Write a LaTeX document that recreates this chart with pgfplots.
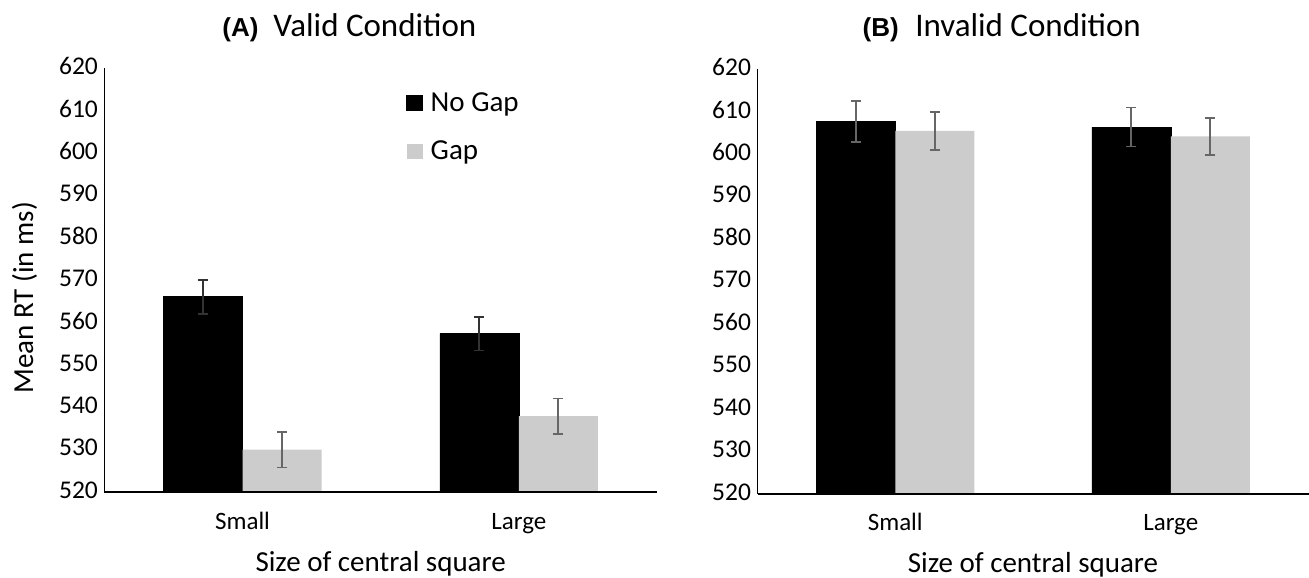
\documentclass[border=0pt]{standalone}
\usepackage{fontspec}
\setmainfont{Carlito}
\newfontfamily\arialfont{Liberation Sans}
\usepackage{pgfplots}
\pgfplotsset{compat=1.18}
\definecolor{gapgray}{HTML}{CCCCCC}
\definecolor{errgray}{HTML}{666666}
\definecolor{errdark}{HTML}{333333}
\pgfplotsset{
  panel/.style={
    scale only axis,
    height=423.9pt,
    xmin=-0.5, xmax=1.5, ymin=520, ymax=620,
    ytick={520,530,...,620},
    xtick={0,1}, xticklabels={Small,Large},
    axis x line*=bottom, axis y line*=left,
    axis line style={line width=1.5pt, black},
    major tick length=0pt,
    ybar=0pt, bar width=79pt,
    axis on top,
    tick label style={font=\fontsize{25}{30}\selectfont},
    yticklabel style={font=\fontsize{25.5}{30}\selectfont, xshift=-3pt, yshift=2pt},
    /pgf/number format/assume math mode=true,
    xticklabel style={anchor=base, yshift=-37pt},
    xlabel={Size of central square},
    xlabel style={font=\fontsize{29}{34}\selectfont, at={(axis description cs:0.5,0)}, anchor=base, yshift=-79pt},
  },
  errs/.style={error bars/.cd, y dir=both, y explicit,
    error bar style={line width=1.8pt, #1},
    error mark options={rotate=90, mark size=5pt, line width=1.8pt, #1}},
}
\begin{document}
\begin{tikzpicture}
\useasboundingbox (0,0) rectangle (1309pt,578pt);
\begin{axis}[panel, width=552.6pt, at={(104.4pt,85.9pt)}, anchor=south west,
  ylabel={Mean RT (in ms)},
  ylabel style={font=\fontsize{29}{34}\selectfont, at={(axis description cs:-0.1292,0.458)}, anchor=base, rotate=0},
  legend style={at={(0.546,0.95)}, anchor=north west, draw=none, fill=none, inner sep=0pt,
    font=\fontsize{29}{34}\selectfont, row sep=22pt, nodes={inner sep=3pt},
    /tikz/every odd column/.append style={column sep=5pt}},
  legend cell align=left,
  legend image code/.code={\fill[#1] (0pt,-7.5pt) rectangle (16pt,7.5pt);},
]
\addplot[fill=black, draw=black, errs=errdark] coordinates {(0,566.1) +- (0,4.0) (1,557.4) +- (0,4.0)};
\addlegendentry{No Gap}
\addplot[fill=gapgray, draw=none, errs=errgray] coordinates {(0,530.0) +- (0,4.2) (1,537.9) +- (0,4.2)};
\addlegendentry{Gap}
\end{axis}
\begin{axis}[panel, width=551pt, at={(757.5pt,84.1pt)}, anchor=south west, height=424.6pt]
\addplot[fill=black, draw=black, errs=errgray] coordinates {(0,607.7) +- (0,4.8) (1,606.4) +- (0,4.6)};
\addplot[fill=gapgray, draw=none, errs=errgray] coordinates {(0,605.5) +- (0,4.5) (1,604.2) +- (0,4.4)};
\end{axis}
\node[anchor=base] at (349.4pt,541pt) {{\arialfont\bfseries\fontsize{26}{30}\selectfont (A)}\hspace{15pt}{\fontsize{33}{38}\selectfont Valid Condition}};
\node[anchor=base] at (1001.8pt,541.5pt) {{\arialfont\bfseries\fontsize{26}{30}\selectfont (B)}\hspace{16.5pt}{\fontsize{33}{38}\selectfont Invalid Condition}};
\end{tikzpicture}
\end{document}
